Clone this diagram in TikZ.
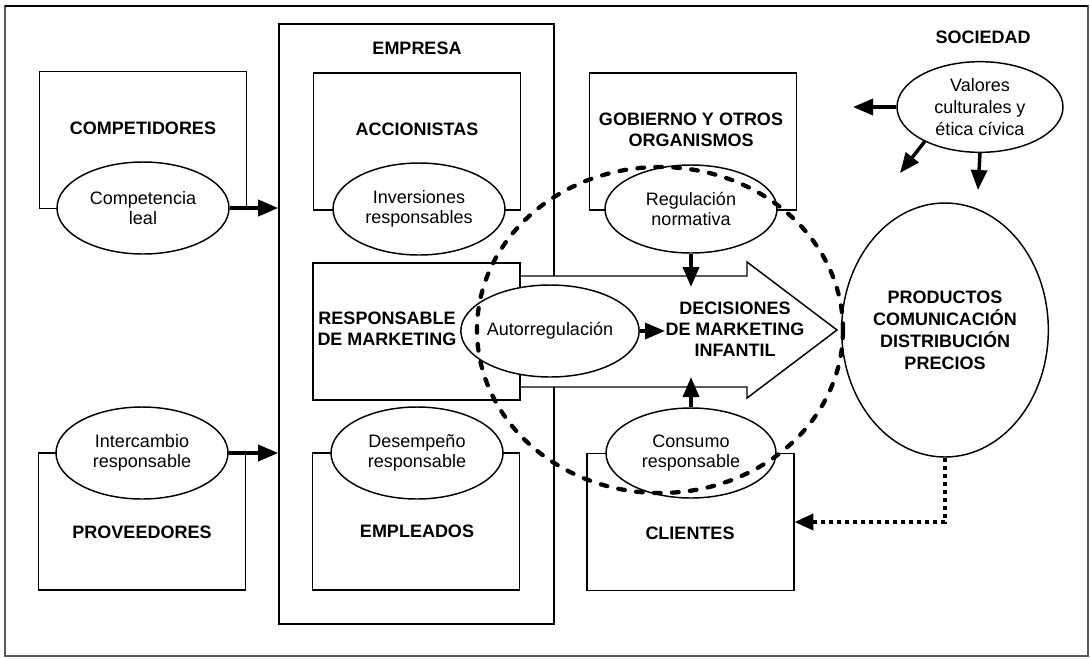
\documentclass[tikz,border=0pt]{standalone}
\usepackage{fontspec}
\setmainfont{Liberation Sans}
\usetikzlibrary{shapes.geometric,arrows.meta,calc}
\begin{document}
\begin{tikzpicture}[x=0.75pt,y=-0.75pt,
  box/.style={draw, line width=1.2pt, minimum width=155pt, minimum height=102.75pt, inner sep=0pt},
  oval/.style={draw, ellipse, line width=1.1pt, fill=white, minimum width=129pt, minimum height=69pt,
    inner sep=0pt, align=center, font=\fontsize{13.5}{15.2}\selectfont},
  lbl/.style={font=\fontsize{13.5}{15.75}\selectfont\bfseries, align=center, inner sep=0pt},
  arr/.style={line width=2.6pt, -{Triangle[length=15pt,width=12pt]}},
  dotarr/.style={line width=2.6pt, dash pattern=on 3.5pt off 2.5pt, -{Triangle[length=14pt,width=12pt]}},
  focusring/.style={draw, ellipse, line width=3.2pt, line cap=round, dash pattern=on 5pt off 8.5pt,
    minimum width=274.5pt, minimum height=244.5pt, inner sep=0pt}
]
\useasboundingbox (0,0) rectangle (1090,658);
% page frame
\draw[black!65, line width=0.8pt] (5,6) rectangle (1088,656);
\draw[black, line width=1.2pt] (5,6) -- (1088,6);

% left column
\node[box] (comp) at (143,140) {};
\node[lbl] (compL) at (143,128) {COMPETIDORES};
\node[oval] (compE) at (143,208) {Competencia\\leal};

\node[box] (prov) at (142,521.5) {};
\node[lbl] (provL) at (142,532) {PROVEEDORES};
\node[oval] (interE) at (142,453) {Intercambio\\responsable};

% company block
\node[draw, line width=1.2pt, minimum width=206.25pt, minimum height=450pt, inner sep=0pt] (empresa) at (416.5,324) {};
\node[lbl] (empresaL) at (417,48) {EMPRESA};

\node[box] (accion) at (417,141.5) {};
\node[lbl] (accionL) at (417,129) {ACCIONISTAS};
\node[oval] (invE) at (419,209) {Inversiones\\responsables};

% big decision arrow
\draw[line width=1.1pt, fill=white] (520,276) -- (747,276) -- (747,262) -- (837,330)
  -- (747,398) -- (747,387) -- (520,387);
\node[lbl] (decL) at (735,329) {DECISIONES\\DE MARKETING\\INFANTIL};

\node[box] (resp) at (416.5,331.5) {};
\node[lbl] (respL) at (387,329) {RESPONSABLE\\DE MARKETING};
\node[oval, minimum width=126pt] (autoE) at (550,331) {Autorregulación};

\node[box] (emp) at (416,521.5) {};
\node[lbl] (empL) at (417,531) {EMPLEADOS};
\node[oval] (desE) at (417,453) {Desempeño\\responsable};

% government and customers
\node[box] (gob) at (693,141.5) {};
\node[lbl] (gobL) at (691,130) {GOBIERNO Y OTROS\\ORGANISMOS};
\node[oval, minimum height=66pt] (regE) at (691,209) {Regulación\\normativa};

\node[box] (cli) at (690.5,522) {};
\node[lbl] (cliL) at (690,533) {CLIENTES};
\node[oval, minimum width=127.5pt, minimum height=67.5pt] (consE) at (691,453) {Consumo\\responsable};

% society
\node[lbl] (socL) at (983,37) {SOCIEDAD};
\node[oval, minimum width=124.5pt, minimum height=68pt, font=\fontsize{13.5}{16.2}\selectfont] (valE) at (980,107) {Valores\\culturales y\\ética cívica};
\node[oval, font=\fontsize{13.5}{16.5}\selectfont\bfseries, minimum width=155pt, minimum height=190.5pt] (prodE) at (945,330)
  {PRODUCTOS\\COMUNICACIÓN\\DISTRIBUCIÓN\\PRECIOS};

% free ends of connectors
\coordinate (regTip) at (691,287);
\coordinate (consTip) at (691,377);
\coordinate (autoTip) at (665,331);
\coordinate (valLeftTip) at (853,107);
\coordinate (valDiagTip) at (900,173);
\coordinate (valDownTip) at (978,190);

% connectors
\draw[arr] (compE.east) -- (compE.east -| empresa.west);
\draw[arr] (interE.east) -- (interE.east -| empresa.west);
\draw[arr] (regE.south) -- (regTip);
\draw[arr] (consE.north) -- (consTip);
\draw[arr] (autoE.east) -- (autoTip);
\draw[arr] (valE.west) -- (valLeftTip);
\draw[arr] (valE.212) -- (valDiagTip);
\draw[arr] (valE.south) -- (valDownTip);
\draw[dotarr] (prodE.south) |- (cli.east);

% area of influence
\node[focusring] (focus) at (660,330) {};
\end{tikzpicture}
\end{document}
